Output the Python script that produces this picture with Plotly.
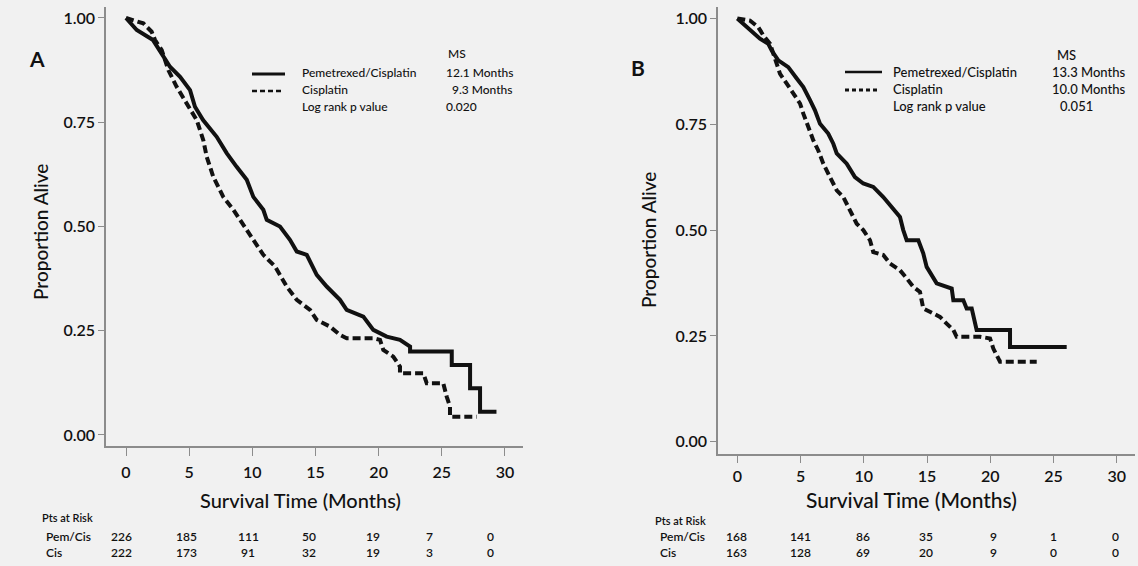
import plotly.graph_objects as go

W, H = 1138, 566

# ---------------- data ----------------
month_ticks = [0, 5, 10, 15, 20, 25, 30]
surv_ticks = [0.0, 0.25, 0.5, 0.75, 1.0]

# Panel A  (Kaplan-Meier)
a_pem_t = [0, 0.85, 2.14, 2.83, 3.48, 4.28, 5.07, 5.46, 6.10, 7.18, 7.97, 8.76, 9.56, 10.08,
           10.87, 11.14, 12.19, 12.98, 13.52, 14.31, 15.10, 15.89, 16.94, 17.47, 18.79, 19.58,
           20.64, 21.69, 22.49, 22.49, 25.79, 25.79, 27.24, 27.24, 28.03, 28.03, 29.33]
a_pem_s = [1.00, 0.971, 0.947, 0.915, 0.883, 0.859, 0.827, 0.787, 0.755, 0.715, 0.676, 0.643,
           0.612, 0.571, 0.540, 0.516, 0.500, 0.468, 0.440, 0.432, 0.384, 0.356, 0.324, 0.300,
           0.284, 0.252, 0.236, 0.228, 0.212, 0.200, 0.200, 0.168, 0.168, 0.112, 0.112, 0.056, 0.056]

a_cis_t = [0, 1.37, 2.03, 2.30, 2.83, 3.35, 4.01, 4.81, 5.60, 6.12, 6.39, 6.91, 7.70, 8.50,
           9.03, 9.29, 10.08, 10.87, 11.80, 12.72, 13.52, 14.57, 15.10, 16.15, 16.94, 17.47,
           19.58, 20.11, 20.37, 21.16, 21.69, 21.69, 23.54, 23.81, 25.12, 25.39, 25.65, 25.65, 27.77]
a_cis_s = [1.00, 0.987, 0.967, 0.947, 0.923, 0.875, 0.835, 0.795, 0.755, 0.707, 0.667, 0.619,
           0.571, 0.540, 0.516, 0.508, 0.468, 0.432, 0.404, 0.356, 0.324, 0.300, 0.276, 0.260,
           0.240, 0.232, 0.232, 0.228, 0.204, 0.188, 0.164, 0.148, 0.148, 0.124, 0.124, 0.092,
           0.068, 0.044, 0.044]

# Panel B
b_pem_t = [0, 1.00, 1.79, 2.45, 2.72, 3.24, 4.03, 4.70, 5.22, 5.75, 6.14, 6.54, 7.19, 7.59,
           7.86, 8.65, 9.30, 9.96, 10.75, 11.54, 12.21, 12.86, 13.12, 13.39, 14.31, 14.70,
           14.97, 15.49, 15.76, 16.95, 17.08, 17.87, 18.13, 18.53, 18.66, 18.92, 21.56, 21.56, 26.04]
b_pem_s = [1.00, 0.972, 0.952, 0.940, 0.924, 0.901, 0.885, 0.858, 0.838, 0.807, 0.783, 0.751,
           0.728, 0.704, 0.681, 0.657, 0.625, 0.610, 0.602, 0.578, 0.555, 0.531, 0.500, 0.476,
           0.476, 0.445, 0.413, 0.389, 0.374, 0.362, 0.334, 0.334, 0.315, 0.315, 0.295, 0.264,
           0.264, 0.224, 0.224]

b_cis_t = [0, 1.00, 1.66, 2.06, 2.59, 3.11, 3.38, 3.91, 4.43, 4.96, 5.22, 5.49, 6.01, 6.40,
           6.80, 7.33, 7.86, 8.38, 8.91, 9.44, 9.96, 10.49, 10.75, 11.54, 12.07, 12.86, 13.39,
           13.91, 14.44, 14.58, 14.70, 15.49, 16.02, 16.55, 17.08, 17.34, 19.19, 19.98, 20.24,
           20.77, 23.67]
b_cis_s = [1.00, 0.995, 0.979, 0.960, 0.940, 0.893, 0.869, 0.846, 0.822, 0.799, 0.775, 0.751,
           0.712, 0.688, 0.657, 0.625, 0.594, 0.578, 0.547, 0.515, 0.500, 0.476, 0.448, 0.441,
           0.421, 0.405, 0.386, 0.366, 0.354, 0.334, 0.315, 0.303, 0.295, 0.279, 0.264, 0.248,
           0.248, 0.244, 0.220, 0.189, 0.189]

risk_a_pem = [226, 185, 111, 50, 19, 7, 0]
risk_a_cis = [222, 173, 91, 32, 19, 3, 0]
risk_b_pem = [168, 141, 86, 35, 9, 1, 0]
risk_b_cis = [163, 128, 69, 20, 9, 0, 0]

legend_labels = ["Pemetrexed/Cisplatin", "Cisplatin", "Log rank p value"]
a_ms = ["12.1 Months", "9.3 Months"]
a_p = "0.020"
b_ms = ["13.3 Months", "10.0 Months"]
b_p = "0.051"

# ---------------- helpers ----------------
def px(x):
    return x / W

def py(y):
    return 1 - y / H

INK = "#111111"
AXC = "#8c8c8c"
FONT = "Lato"
BG = "#f1f1f1"

fig = go.Figure()
solid = dict(color=INK, width=4)
dashed = dict(color=INK, width=4, dash="8px,4px")
fig.add_trace(go.Scatter(x=a_cis_t, y=a_cis_s, mode="lines", line=dashed, xaxis="x", yaxis="y", hoverinfo="skip"))
fig.add_trace(go.Scatter(x=a_pem_t, y=a_pem_s, mode="lines", line=solid, xaxis="x", yaxis="y", hoverinfo="skip"))
fig.add_trace(go.Scatter(x=b_cis_t, y=b_cis_s, mode="lines", line=dashed, xaxis="x2", yaxis="y2", hoverinfo="skip"))
fig.add_trace(go.Scatter(x=b_pem_t, y=b_pem_s, mode="lines", line=solid, xaxis="x2", yaxis="y2", hoverinfo="skip"))

def xaxis_style(domain, rng, anchor, ticklen, standoff):
    return dict(domain=domain, range=rng, anchor=anchor, showline=True, linecolor=AXC,
                linewidth=1.5, ticks="outside", ticklen=ticklen, tickwidth=1.2, tickcolor=AXC,
                tickvals=month_ticks, showgrid=False, zeroline=False,
                tickfont=dict(family=FONT, size=16, color="#111111", weight=600),
                ticklabelstandoff=standoff)

def yaxis_style(domain, rng, anchor):
    return dict(domain=domain, range=rng, anchor=anchor, showline=True, linecolor=AXC,
                linewidth=1.5, ticks="outside", ticklen=6, tickwidth=1.2, tickcolor=AXC,
                tickvals=surv_ticks, tickformat=".2f", showgrid=False, zeroline=False,
                tickfont=dict(family=FONT, size=16, color="#111111", weight=600))

fig.update_layout(
    width=W, height=H, margin=dict(l=0, r=0, t=0, b=0),
    paper_bgcolor=BG, plot_bgcolor=BG, showlegend=False,
    xaxis=xaxis_style([px(106), px(523)], [-1.584, 31.43], "y", 8, 3),
    yaxis=yaxis_style([py(446), py(6.7)], [-0.0264, 1.027], "x"),
    xaxis2=xaxis_style([px(718), px(1135)], [-1.526, 31.44], "y2", 7, 0),
    yaxis2=yaxis_style([py(454), py(6.7)], [-0.029, 1.0277], "x2"),
)

ann = []
def text(x, y, s, size=12, xanchor="left", weight=400, angle=0):
    ann.append(dict(x=px(x), y=py(y), xref="paper", yref="paper", text=s,
                    showarrow=False, xanchor=xanchor, yanchor="middle", textangle=angle,
                    font=dict(family=FONT, size=size, color=INK, weight=weight)))

# panel letters
text(37, 58, "A", 21, "center", weight=700)
text(638, 68, "B", 21, "center", weight=700)

# axis titles
text(300, 500, "Survival Time (Months)", 20, "center", weight=500)
text(911, 500, "Survival Time (Months)", 21, "center", weight=500)
text(40, 232, "Proportion Alive", 19, "center", weight=500, angle=-90)
text(648, 240, "Proportion Alive", 19, "center", weight=500, angle=-90)

# legends
shapes = []
def seg(x0, x1, y, width, dash="solid"):
    shapes.append(dict(type="line", xref="paper", yref="paper", x0=px(x0), x1=px(x1),
                       y0=py(y), y1=py(y), line=dict(color=INK, width=width, dash=dash)))

seg(252, 285, 74, 3)
seg(252, 282, 91, 2.5, "5px,3px")
for lab, yy in zip(legend_labels, [72, 89, 106]):
    text(300, yy, lab, 12, weight=500)
text(457, 53, "MS", 12, "center", weight=500)
text(515, 72, a_ms[0], 12, "right", weight=500)
text(515, 89, a_ms[1], 12, "right", weight=500)
text(444, 106, a_p, 12, "left", weight=500)

seg(845, 882, 72, 2.5)
seg(845, 880, 90, 3, "4px,3px")
for lab, yy in zip(legend_labels, [72, 89, 106]):
    text(891, yy, lab, 13, weight=500)
text(1066, 55, "MS", 13, "center", weight=500)
text(1127, 72, b_ms[0], 13, "right", weight=500)
text(1127, 89, b_ms[1], 13, "right", weight=500)
text(1058, 106, b_p, 13, "left", weight=500)

# patients at risk tables
a_cols = [121.7, 186.7, 248, 309, 373, 429, 490.7]
b_cols = [736.7, 800, 863, 925.7, 993, 1053, 1115.7]
text(40, 517, "Pts at Risk", 11, weight=600)
text(44, 536, "Pem/Cis", 12, weight=600)
text(44, 552, "Cis", 12, weight=600)
for xc, v1, v2 in zip(a_cols, risk_a_pem, risk_a_cis):
    text(xc, 536, str(v1), 12, "center", weight=600)
    text(xc, 552, str(v2), 12, "center", weight=600)

text(653, 520, "Pts at Risk", 11, weight=600)
text(658, 536, "Pem/Cis", 12, weight=600)
text(658, 552, "Cis", 12, weight=600)
for xc, v1, v2 in zip(b_cols, risk_b_pem, risk_b_cis):
    text(xc, 536, str(v1), 12, "center", weight=600)
    text(xc, 552, str(v2), 12, "center", weight=600)

fig.update_layout(annotations=ann, shapes=shapes)
fig.write_html("out.html")
